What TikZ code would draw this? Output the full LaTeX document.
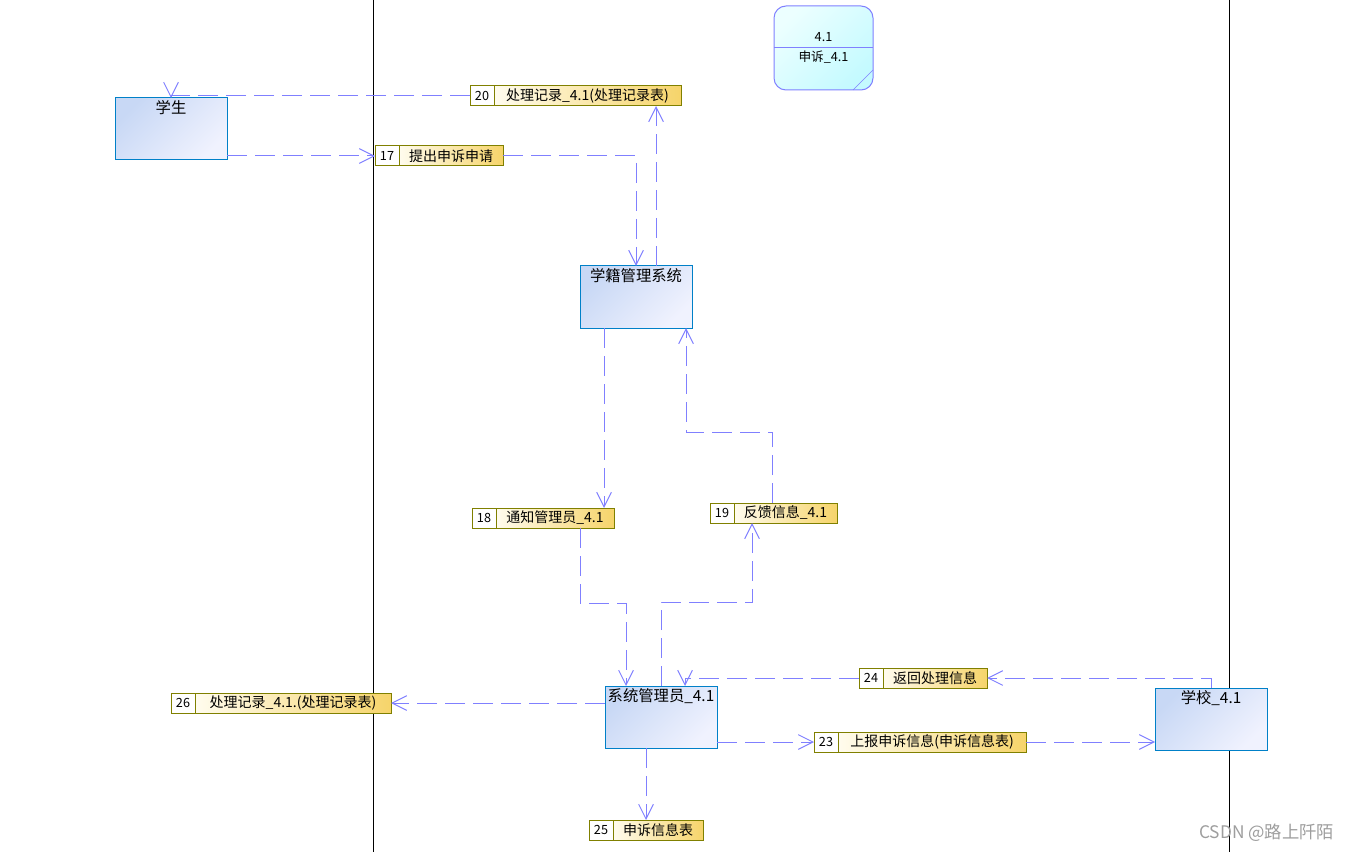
\documentclass[tikz,border=0pt]{standalone}
\usepackage{fontspec}
\setmainfont{Noto Sans CJK SC}
\usetikzlibrary{positioning,arrows.meta}
\definecolor{flowblue}{RGB}{128,128,255}
\definecolor{entline}{RGB}{0,128,200}
\definecolor{enttop}{RGB}{200,216,245}
\definecolor{entbot}{RGB}{240,242,254}
\definecolor{lblline}{RGB}{128,128,0}
\definecolor{lblleft}{RGB}{255,252,238}
\definecolor{lblright}{RGB}{246,212,106}
\definecolor{proctop}{RGB}{236,255,255}
\definecolor{procbot}{RGB}{196,250,255}
\tikzset{
  entity/.style={draw=entline, line width=0.75pt, top color=enttop, bottom color=entbot,
    shading angle=45, minimum width=84pt, minimum height=46.5pt, inner sep=0pt, outer sep=0pt},
  entname/.style={anchor=north, inner sep=1.5pt, font=\fontsize{11.5}{13}\selectfont},
  numcell/.style={draw=lblline, fill=white, line width=0.75pt, minimum width=18pt,
    minimum height=15pt, inner sep=0pt, outer sep=0pt, font=\fontsize{9.5}{10}\selectfont},
  flowtext/.style={draw=lblline, line width=0.75pt, left color=lblleft, right color=lblright,
    minimum height=15pt, inner sep=0pt, outer sep=0pt, font=\fontsize{10.5}{11}\selectfont},
  procbox/.style={draw=flowblue, line width=0.75pt, rounded corners=9pt, top color=proctop,
    bottom color=procbot, shading angle=45, minimum width=74.25pt, minimum height=63pt, outer sep=0pt},
  flow/.style={draw=flowblue, line width=0.75pt, dash pattern=on 15pt off 6pt,
    -{Straight Barb[length=11pt,width=11pt]}},
}
\begin{document}
\begin{tikzpicture}[x=0.75pt,y=-0.75pt]
\useasboundingbox (0,0) rectangle (1352,852);
\fill[white] (0,0) rectangle (1352,852);
% swimlane borders
\foreach \x in {373,1229} {
\draw[line width=0.75pt] (\x,0) -- (\x,852);
}
% process 4.1
\node[procbox] (p41) at (823.5,48) {};
\draw[flowblue, line width=0.75pt] (p41.west) -- (p41.east);
\draw[flowblue, line width=0.5pt] ([yshift=15pt]p41.south east) -- ([xshift=-15pt]p41.south east);
\node[font=\fontsize{9.5}{10}\selectfont] (p41id) at (823.5,37) {4.1};
\node[font=\fontsize{9.5}{10}\selectfont] (p41nm) at (823.5,57) {申诉\_4.1};
% entities
\node[entity, label={[entname]north:学生}] (stu) at (171,129) {};
\node[entity, label={[entname]north:学籍管理系统}] (sys) at (636,297) {};
\node[entity, label={[entname]north:系统管理员\_4.1}] (adm) at (661,717) {};
\node[entity, label={[entname]north:学校\_4.1}] (sch) at (1211,719) {};
% data flows
\node[numcell] (n20) at (482,96) {20};
\node[flowtext, right=0pt of n20, minimum width=140.25pt] (f20) {处理记录\_4.1(处理记录表)};
\node[numcell] (n17) at (387,156) {17};
\node[flowtext, right=0pt of n17, minimum width=78pt] (f17) {提出申诉申请};
\node[numcell] (n18) at (484,518) {18};
\node[flowtext, right=0pt of n18, minimum width=88.5pt] (f18) {通知管理员\_4.1};
\node[numcell] (n19) at (722,513) {19};
\node[flowtext, right=0pt of n19, minimum width=77.25pt] (f19) {反馈信息\_4.1};
\node[numcell] (n26) at (183,703) {26};
\node[flowtext, right=0pt of n26, minimum width=147pt] (f26) {处理记录\_4.1.(处理记录表)};
\node[numcell] (n24) at (871,678) {24};
\node[flowtext, right=0pt of n24, minimum width=78pt] (f24) {返回处理信息};
\node[numcell] (n23) at (826,742) {23};
\node[flowtext, right=0pt of n23, minimum width=141pt] (f23) {上报申诉信息(申诉信息表)};
\node[numcell] (n25) at (601,830) {25};
\node[flowtext, right=0pt of n25, minimum width=67.5pt] (f25) {申诉信息表};
% bends
\coordinate (b19) at (686,432);
\coordinate (b18) at (626,603);
\coordinate (b19b) at (752,602);
% connectors
\draw[flow] (stu.east |- n17.west) -- (n17.west);
\draw[flow] (f17.east) -| (sys.north);
\draw[flow] ([xshift=15pt]sys.north) -- ([xshift=15pt]sys.north |- f20.south);
\draw[flow] (n20.west) -| (stu.north);
\draw[flow] ([xshift=-24pt]sys.south) -- ([xshift=-24pt]sys.south |- f18.north);
\draw[flow] ([xshift=-9.4pt]f19.north) |- (b19) -- (b19 |- sys.south);
\draw[flow] ([xshift=18.75pt]f18.south) |- (b18) -- (b18 |- adm.north);
\draw[flow] (adm.north) |- (b19b) -- (b19b |- f19.south);
\draw[flow] (sch.north) |- (f24.east);
\draw[flow] (n24.west) -| ([xshift=18pt]adm.north);
\draw[flow] (adm.west |- f26.east) -- (f26.east);
\draw[flow] (adm.east |- n23.west) -- (n23.west);
\draw[flow] (f23.east) -- (sch.west |- f23.east);
\draw[flow] ([xshift=-11.25pt]adm.south) -- ([xshift=-11.25pt]adm.south |- f25.north);
\node[text=black!38, anchor=west, inner sep=0pt, font=\fontsize{13}{14}\selectfont] (mark) at (1199,833) {CSDN @路上阡陌};
\end{tikzpicture}
\end{document}
